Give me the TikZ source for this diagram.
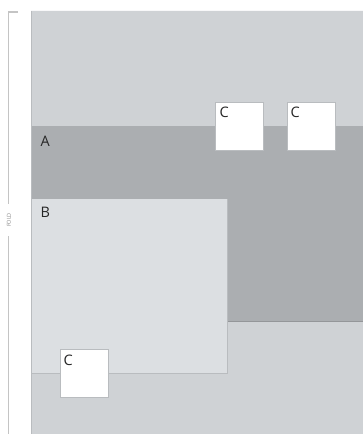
\documentclass[tikz,border=0pt]{standalone}
\usepackage{fontspec}
\setmainfont{Open Sans}
\definecolor{panel}{HTML}{CFD2D5}
\definecolor{bandA}{HTML}{ABAEB1}
\definecolor{boxB}{HTML}{DCDFE2}
\definecolor{edge}{HTML}{B9BCBF}
\definecolor{ink}{HTML}{262626}
\definecolor{foldc}{HTML}{C4C4C4}
\begin{document}
\begin{tikzpicture}[x=1pt,y=-1pt,
  lab/.style={anchor=base west,inner sep=0pt,font=\fontsize{14.5}{14}\selectfont,text=ink},
  cbox/.style={draw=edge,line width=0.8pt,fill=white,minimum width=48pt,minimum height=48pt,anchor=north west,inner sep=0pt},
  bracket/.style={draw=foldc,line width=1.4pt}]
\useasboundingbox (0,0) rectangle (363,434);
% panel
\fill[panel] (31,10) rectangle (363,434);
\draw[edge,line width=1pt] (31.5,10) -- (31.5,434);
\draw[white!85!panel,line width=0.8pt] (31,10.5) -- (363,10.5);
% band A
\fill[bandA] (32,126) rectangle (363,321);
\draw[edge!80!black,line width=0.5pt] (32,321) -- (363,321);
\node[lab] (A) at (40.5,146) {A};
% box B
\fill[boxB] (32,199) rectangle (227,373);
\draw[edge,line width=0.8pt] (32,373) -- (227,373) -- (227,199);
\node[lab] (B) at (40.5,217) {B};
% C boxes
\node[cbox] (C1) at (215,102) {};
\node[lab] (C1l) at (219.5,117) {C};
\node[cbox] (C2) at (287,102) {};
\node[lab] (C2l) at (290.5,117) {C};
\node[cbox] (C3) at (60,349) {};
\node[lab] (C3l) at (63.5,365) {C};
% fold bracket
\coordinate (t0) at (18,12);
\coordinate (t1) at (8.5,12);
\coordinate (t2) at (8.5,204);
\coordinate (b0) at (8.5,236);
\coordinate (b1) at (8.5,434);
\draw[bracket] (t0) -- (t1) -- (t2);
\draw[bracket] (b0) -- (b1);
\node[rotate=90,font=\fontsize{5.5}{6}\selectfont,text=foldc!70!black,inner sep=0pt] (fold) at (9,220) {FOLD};
\end{tikzpicture}
\end{document}
